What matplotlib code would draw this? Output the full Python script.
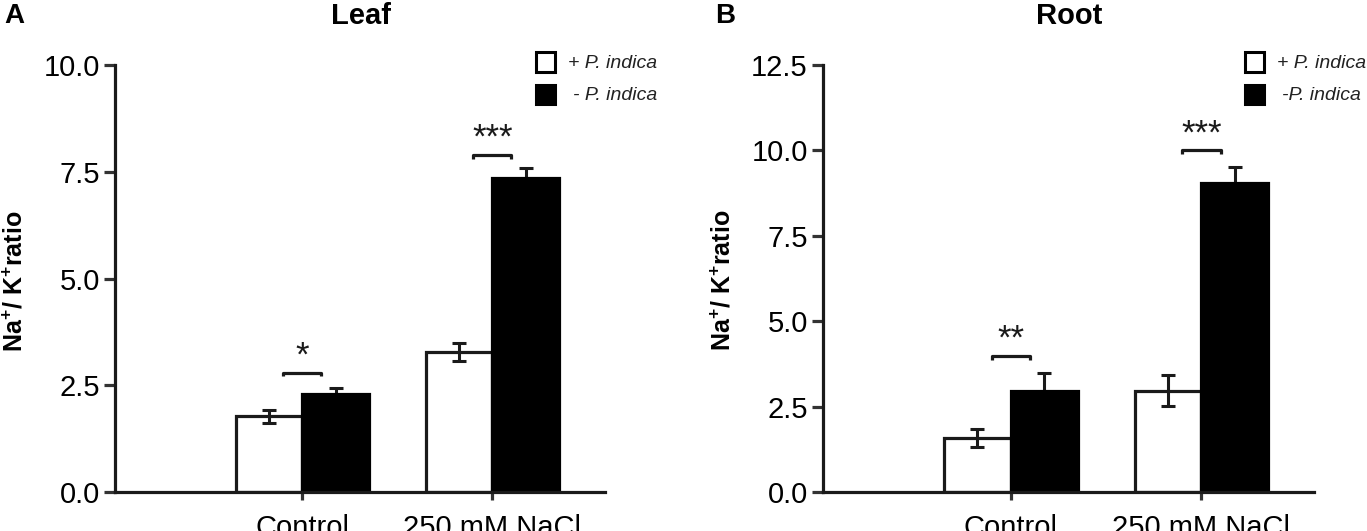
import matplotlib
matplotlib.use("Agg")
import matplotlib.pyplot as plt
from matplotlib.patches import Rectangle
import numpy as np

# ---- data ----
groups = ["Control", "250 mM NaCl"]
leaf_plus = [1.77, 3.28]
leaf_plus_err = [0.16, 0.21]
leaf_minus = [2.30, 7.35]
leaf_minus_err = [0.13, 0.25]
leaf_sig = ["*", "***"]
leaf_sig_y = [2.80, 7.90]
leaf_yticks = [0.0, 2.5, 5.0, 7.5, 10.0]

root_plus = [1.58, 2.97]
root_plus_err = [0.26, 0.46]
root_minus = [2.97, 9.06]
root_minus_err = [0.51, 0.46]
root_sig = ["**", "***"]
root_sig_y = [3.99, 10.0]
root_yticks = [0.0, 2.5, 5.0, 7.5, 10.0, 12.5]

legend_leaf = ["+ P. indica", "- P. indica"]
legend_root = ["+ P. indica", "-P. indica"]

SANS = ["Liberation Sans", "DejaVu Sans"]
plt.rcParams["font.family"] = SANS
plt.rcParams["mathtext.default"] = "regular"

W, H = 1367, 531
fig = plt.figure(figsize=(W / 100, H / 100), dpi=100)
EDGE = "#1a1a1a"


def panel(ax, plus, plus_err, minus, minus_err, sig, sig_y, yticks, ymax):
    x = np.arange(1, len(groups) + 1)
    bw = 0.35
    ax.bar(x - bw / 2, plus, bw, color="white", edgecolor=EDGE, linewidth=2.3, zorder=2)
    ax.bar(x + bw / 2, minus, bw, color="black", edgecolor="black", linewidth=2.3, zorder=2)
    ax.errorbar(x - bw / 2, plus, yerr=plus_err, fmt="none", ecolor=EDGE,
                elinewidth=2.2, capsize=5, capthick=2.2, zorder=3)
    ax.errorbar(x + bw / 2, minus, yerr=minus_err, fmt="none", ecolor=EDGE,
                elinewidth=2.2, capsize=5, capthick=2.2, zorder=1)
    # significance brackets
    for xi, yb, s in zip(x, sig_y, sig):
        hb = ymax * 0.009
        ax.plot([xi - 0.1, xi - 0.1, xi + 0.1, xi + 0.1], [yb - hb, yb, yb, yb - hb],
                color=EDGE, lw=2.3, solid_capstyle="butt", zorder=3)
        ax.annotate(s, (xi, yb), xytext=(0, 12), textcoords="offset points",
                    ha="center", va="center", fontsize=25, color=EDGE)
    ax.set_xlim(0.015, 2.59)
    ax.set_ylim(0, ymax)
    ax.set_yticks(yticks)
    ax.set_yticklabels([f"{t:.1f}" for t in yticks], fontsize=21)
    ax.set_xticks(x)
    ax.set_xticklabels(groups, fontsize=21)
    for sp in ["top", "right"]:
        ax.spines[sp].set_visible(False)
    for sp in ["left", "bottom"]:
        ax.spines[sp].set_linewidth(2.3)
        ax.spines[sp].set_color(EDGE)
    ax.tick_params(axis="y", length=8, width=2.3, color="#333333", pad=3)
    ax.tick_params(axis="x", length=6, width=2.3, color="#333333", pad=10)
    ax.set_ylabel("Na$^{+}$/ K$^{+}$ratio", fontsize=18, fontweight="bold")
    ax.yaxis.set_label_coords(-0.178, 0.495)


axL = fig.add_axes([115 / W, 1 - 492 / H, (604.5 - 115) / W, (492 - 65.4) / H])
panel(axL, leaf_plus, leaf_plus_err, leaf_minus, leaf_minus_err, leaf_sig,
      leaf_sig_y, leaf_yticks, 10.0)

axR = fig.add_axes([823 / W, 1 - 492 / H, (1314 - 823) / W, (492 - 65) / H])
panel(axR, root_plus, root_plus_err, root_minus, root_minus_err, root_sig,
      root_sig_y, root_yticks, 12.5)


# legends (figure pixel layout)
def legend(x_sq, x_txt, labels):
    for i, (lab, fc) in enumerate(zip(labels, ["white", "black"])):
        yc = 62 + 33 * i
        fig.patches.append(Rectangle((x_sq / W, 1 - (yc + 9.5) / H), 19 / W, 19 / H,
                                     transform=fig.transFigure, facecolor=fc,
                                     edgecolor="black", linewidth=2.2))
        fig.text((x_txt + (0 if i == 0 else 5)) / W, 1 - (yc + 1) / H, lab,
                 fontsize=14, style="italic", va="center", ha="left",
                 color="#222222")


legend(536, 568, legend_leaf)
legend(1244.5, 1277, legend_root)

# titles and panel letters
fig.text(361 / W, 1 - 16 / H, "Leaf", fontsize=21, fontweight="bold",
         ha="center", va="center")
fig.text(1069 / W, 1 - 16 / H, "Root", fontsize=21, fontweight="bold",
         ha="center", va="center")
fig.text(4 / W, 1 - 16 / H, "A", fontsize=20, fontweight="bold",
         ha="left", va="center")
fig.text(715 / W, 1 - 16 / H, "B", fontsize=20, fontweight="bold",
         ha="left", va="center")

fig.savefig("out.png", dpi=100, facecolor="white")
